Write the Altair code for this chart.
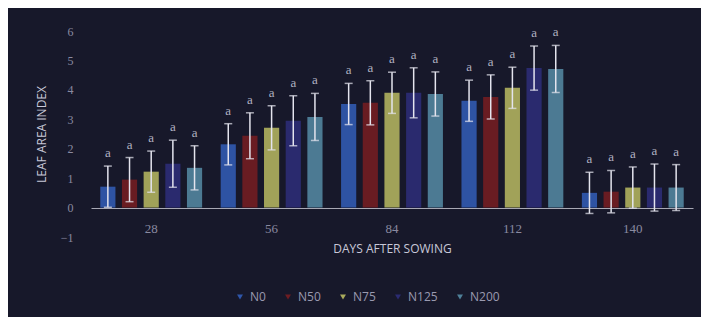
import altair as alt
import pandas as pd

days = ["28", "56", "84", "112", "140"]
treatments = ["N0", "N50", "N75", "N125", "N200"]

lai_N0 = [0.71, 2.15, 3.52, 3.63, 0.50]
lai_N50 = [0.95, 2.44, 3.56, 3.76, 0.54]
lai_N75 = [1.22, 2.71, 3.90, 4.07, 0.68]
lai_N125 = [1.49, 2.95, 3.90, 4.74, 0.68]
lai_N200 = [1.35, 3.08, 3.86, 4.71, 0.68]

err_N0 = [0.70, 0.70, 0.70, 0.70, 0.70]
err_N50 = [0.75, 0.78, 0.75, 0.75, 0.72]
err_N75 = [0.70, 0.75, 0.70, 0.70, 0.70]
err_N125 = [0.80, 0.85, 0.85, 0.75, 0.80]
err_N200 = [0.75, 0.80, 0.75, 0.80, 0.78]

letters = ["a", "a", "a", "a", "a"]
y_ticks = [-1, 0, 1, 2, 3, 4, 5, 6]

colors = ["#2f56aa", "#6e1c22", "#a9aa5c", "#2b2b72", "#4f8099"]

lai = [lai_N0, lai_N50, lai_N75, lai_N125, lai_N200]
err = [err_N0, err_N50, err_N75, err_N125, err_N200]

rows = []
for ti, t in enumerate(treatments):
    for di, d in enumerate(days):
        v = lai[ti][di]
        e = err[ti][di]
        rows.append({"day": d, "trt": t, "lai": v, "lo": v - e, "hi": v + e,
                     "letter": letters[di]})
df = pd.DataFrame(rows)

x = alt.X("day:N", sort=days, title="DAYS AFTER SOWING",
          scale=alt.Scale(paddingInner=0.1, paddingOuter=0.05),
          axis=alt.Axis(offset=-29, labelAngle=0, domainColor="#a8a8b4",
                        domainWidth=1, ticks=False, labelPadding=14,
                        labelColor="#8a8aa0", labelFont="Liberation Serif",
                        labelFontSize=13, titleColor="#c8c8d8",
                        titleFont="Open Sans", titleFontSize=12,
                        titleFontWeight="normal", titlePadding=8))
xo = alt.XOffset("trt:N", sort=treatments,
                 scale=alt.Scale(paddingInner=0.3, paddingOuter=0.15))

y_scale = alt.Scale(domain=[-1, 6], nice=False)
y_axis = alt.Axis(values=y_ticks, grid=False, domain=False, ticks=False,
                  labelPadding=18, labelOverlap=False, labelFlush=False,
                  labelBound=False, labelColor="#8a8aa0",
                  labelFont="Liberation Serif", labelFontSize=12,
                  titleColor="#c8c8d8", titleFont="Open Sans",
                  titleFontSize=12, titleFontWeight="normal", titlePadding=12)


def Y(field):
    return alt.Y(field, title="LEAF AREA INDEX", scale=y_scale, axis=y_axis)


base = alt.Chart(df)

bars = base.mark_bar(opacity=0.95).encode(
    x=x, xOffset=xo,
    y=Y("lai:Q"),
    y2=alt.datum(0),
    color=alt.Color("trt:N", sort=treatments,
                    scale=alt.Scale(domain=treatments, range=colors),
                    legend=alt.Legend(orient="none", direction="horizontal",
                                      legendX=143, legendY=260, title=None,
                                      symbolType="triangle-down", symbolSize=35,
                                      labelColor="#9a9ab0", labelFontSize=12,
                                      labelFont="Open Sans", columnPadding=16,
                                      symbolStrokeWidth=0, symbolOpacity=1)),
)

rules = base.mark_rule(color="#e4e4ee", strokeWidth=1.5).encode(
    x=x, xOffset=xo, y=Y("lo:Q"), y2="hi:Q")

caps_hi = base.mark_tick(color="#e4e4ee", thickness=1.5, size=8).encode(
    x=x, xOffset=xo, y=Y("hi:Q"))
caps_lo = base.mark_tick(color="#e4e4ee", thickness=1.5, size=8).encode(
    x=x, xOffset=xo, y=Y("lo:Q"))

labels = base.mark_text(color="#b0b0c0", font="Liberation Serif", fontSize=13,
                        baseline="middle", dy=-13).encode(
    x=x, xOffset=xo, y=Y("hi:Q"), text="letter:N")

chart = alt.layer(bars, rules, caps_hi, caps_lo, labels).properties(
    width=602, height=206,
    autosize=alt.AutoSizeParams(type="none"),
    padding={"left": 83, "top": 23, "right": 8, "bottom": 80},
    background="#17182a",
).configure_view(stroke=None).configure_axisY(labelOverlap=False)

chart.save("out.html", embed_options={"renderer": "svg", "actions": False})
